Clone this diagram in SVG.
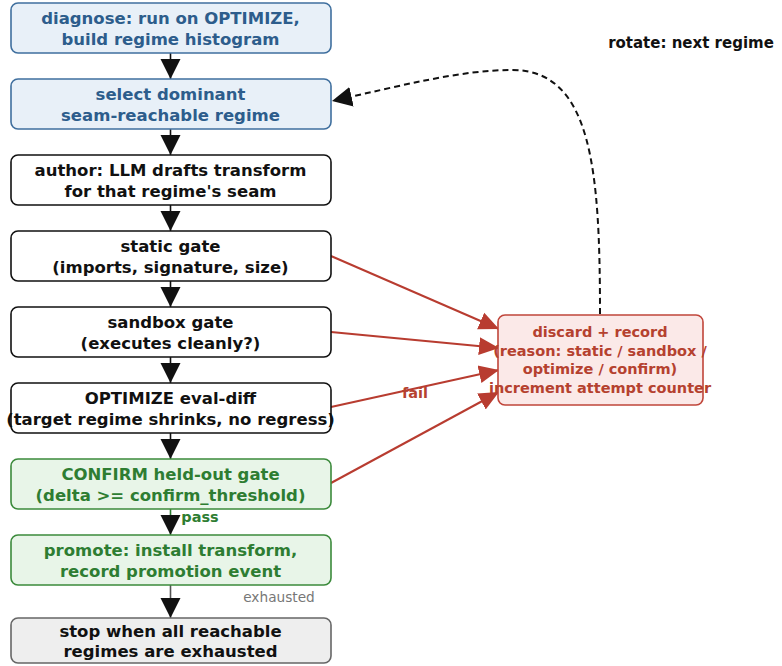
<svg xmlns="http://www.w3.org/2000/svg" width="782" height="666" viewBox="0 0 782 666">
<style>
text{font-family:"DejaVu Sans","Liberation Sans",sans-serif;font-weight:bold;text-anchor:middle}
.nt{font-size:16.5px}
.blue rect{fill:#e8f0f8;stroke:#3f6f9e;stroke-width:1.6}
.blue text{fill:#2d5d8c}
.plain rect{fill:#ffffff;stroke:#111111;stroke-width:1.6}
.plain text{fill:#111111}
.green rect{fill:#e8f5e8;stroke:#3b8a3b;stroke-width:1.6}
.green text{fill:#2e7d32}
.gray rect{fill:#eeeeee;stroke:#666666;stroke-width:1.6}
.gray text{fill:#111111}
.red rect{fill:#fbe9e8;stroke:#c0453a;stroke-width:1.6}
.red text{fill:#b5412f;font-size:14.5px}
.flow{stroke:#111;stroke-width:1.6;fill:none}
.fail{stroke:#b83c30;stroke-width:2;fill:none}
.lbl{font-size:14.5px}
</style>
<defs>
<marker id="ah" markerUnits="userSpaceOnUse" markerWidth="22" markerHeight="22" viewBox="0 0 22 22" refX="20" refY="11" orient="auto">
<path d="M0,1 L20,11 L0,21 Z" fill="#111"/>
</marker>
<marker id="ahr" markerUnits="userSpaceOnUse" markerWidth="22" markerHeight="22" viewBox="0 0 22 22" refX="20" refY="11" orient="auto">
<path d="M0,2 L20,11 L0,20 Z" fill="#b83c30"/>
</marker>
</defs>

<g id="connectors">
<line class="flow" x1="170.5" y1="53" x2="170.5" y2="79" marker-end="url(#ah)"/>
<line class="flow" x1="170.5" y1="129" x2="170.5" y2="155" marker-end="url(#ah)"/>
<line class="flow" x1="170.5" y1="205" x2="170.5" y2="231" marker-end="url(#ah)"/>
<line class="flow" x1="170.5" y1="281" x2="170.5" y2="307" marker-end="url(#ah)"/>
<line class="flow" x1="170.5" y1="357" x2="170.5" y2="383" marker-end="url(#ah)"/>
<line class="flow" x1="170.5" y1="433" x2="170.5" y2="459" marker-end="url(#ah)"/>
<line class="flow" x1="170.5" y1="509" x2="170.5" y2="535" marker-end="url(#ah)" style="stroke:#2e7d32"/>
<line class="flow" x1="170.5" y1="585" x2="170.5" y2="618" marker-end="url(#ah)" style="stroke:#555"/>
<line class="fail" x1="331" y1="256" x2="499" y2="329" marker-end="url(#ahr)"/>
<line class="fail" x1="331" y1="332" x2="499" y2="348" marker-end="url(#ahr)"/>
<line class="fail" x1="331" y1="407" x2="499" y2="370" marker-end="url(#ahr)"/>
<line class="fail" x1="331" y1="483" x2="499" y2="392" marker-end="url(#ahr)"/>
<path d="M600,314 C600,170 592,70 512,70 C460,70 400,86 332,101" fill="none" stroke="#111" stroke-width="2" stroke-dasharray="6,4" marker-end="url(#ah)"/>
<text class="lbl" x="415" y="398" style="fill:#b5412f">fail</text>
<text class="lbl" x="200" y="522" style="fill:#2e7d32">pass</text>
<text x="279" y="602" style="font-weight:normal;font-size:13.7px;fill:#777">exhausted</text>
<text x="691" y="48" style="font-size:15px;fill:#111">rotate: next regime</text>
</g>

<g id="diagnose" class="blue">
<rect x="11" y="3" width="320" height="50" rx="7"/>
<text class="nt" x="170.5" y="24">diagnose: run on OPTIMIZE,</text>
<text class="nt" x="170.5" y="45">build regime histogram</text>
</g>
<g id="select" class="blue">
<rect x="11" y="79" width="320" height="50" rx="7"/>
<text class="nt" x="170.5" y="100">select dominant</text>
<text class="nt" x="170.5" y="121">seam-reachable regime</text>
</g>
<g id="author" class="plain">
<rect x="11" y="155" width="320" height="50" rx="7"/>
<text class="nt" x="170.5" y="176">author: LLM drafts transform</text>
<text class="nt" x="170.5" y="197">for that regime's seam</text>
</g>
<g id="static" class="plain">
<rect x="11" y="231" width="320" height="50" rx="7"/>
<text class="nt" x="170.5" y="252">static gate</text>
<text class="nt" x="170.5" y="273">(imports, signature, size)</text>
</g>
<g id="sandbox" class="plain">
<rect x="11" y="307" width="320" height="50" rx="7"/>
<text class="nt" x="170.5" y="328">sandbox gate</text>
<text class="nt" x="170.5" y="349">(executes cleanly?)</text>
</g>
<g id="optimize" class="plain">
<rect x="11" y="383" width="320" height="50" rx="7"/>
<text class="nt" x="170.5" y="404">OPTIMIZE eval-diff</text>
<text class="nt" x="170.5" y="425">(target regime shrinks, no regress)</text>
</g>
<g id="confirm" class="green">
<rect x="11" y="459" width="320" height="50" rx="7"/>
<text class="nt" x="170.5" y="480">CONFIRM held-out gate</text>
<text class="nt" x="170.5" y="501">(delta &gt;= confirm_threshold)</text>
</g>
<g id="promote" class="green">
<rect x="11" y="535" width="320" height="50" rx="7"/>
<text class="nt" x="170.5" y="556">promote: install transform,</text>
<text class="nt" x="170.5" y="577">record promotion event</text>
</g>
<g id="stop" class="gray">
<rect x="11" y="618" width="320" height="45" rx="7"/>
<text class="nt" x="170.5" y="637">stop when all reachable</text>
<text class="nt" x="170.5" y="657">regimes are exhausted</text>
</g>
<g id="discard" class="red">
<rect x="498" y="315" width="205" height="90" rx="7"/>
<text x="600" y="337">discard + record</text>
<text x="600" y="355.7">(reason: static / sandbox /</text>
<text x="600" y="374.4">optimize / confirm)</text>
<text x="600" y="393">increment attempt counter</text>
</g>
</svg>
